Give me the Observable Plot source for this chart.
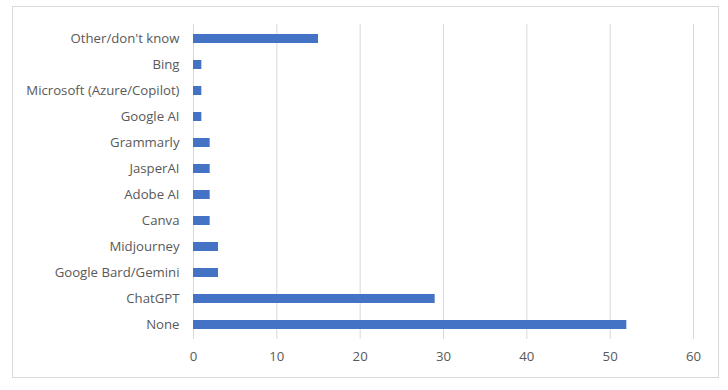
<!DOCTYPE html>
<html>
<head>
<meta charset="utf-8">
<script src="https://cdn.jsdelivr.net/npm/d3@7"></script>
<script src="https://cdn.jsdelivr.net/npm/@observablehq/plot@0.6"></script>
<style>
  html, body { margin: 0; padding: 0; background: #fff; }
  #wrap { position: relative; width: 728px; height: 390px; }
  #frame { position: absolute; left: 12px; top: 6px; width: 707px; height: 372px; border: 1px solid #d9d9d9; box-sizing: border-box; pointer-events: none; }
</style>
</head>
<body>
<div id="wrap"><div id="frame"></div></div>
<script>
const categories = ["Other/don't know", "Bing", "Microsoft (Azure/Copilot)", "Google AI", "Grammarly", "JasperAI", "Adobe AI", "Canva", "Midjourney", "Google Bard/Gemini", "ChatGPT", "None"];
const values = [15, 1, 1, 1, 2, 2, 2, 2, 3, 3, 29, 52];
const xTicks = [0, 10, 20, 30, 40, 50, 60];

const data = categories.map((c, i) => ({category: c, value: values[i]}));

const chart = Plot.plot({
  width: 728,
  height: 390,
  marginLeft: 193,
  marginRight: 35,
  marginTop: 24,
  marginBottom: 51,
  style: {fontFamily: "'Open Sans', 'Noto Sans', sans-serif", fontSize: "13.2px", color: "#595959", background: "transparent"},
  x: {domain: [0, 60], ticks: xTicks, label: null, tickSize: 0, tickPadding: 12},
  y: {domain: categories, label: null, tickSize: 0, tickPadding: 14, paddingInner: 0.66, paddingOuter: 0.33},
  marks: [
    Plot.ruleX(xTicks, {stroke: "#d9d9d9", strokeWidth: 1}),
    Plot.barX(data, {x: "value", y: "category", fill: "#4472C4"})
  ]
});
document.getElementById("wrap").prepend(chart);
</script>
</body>
</html>
